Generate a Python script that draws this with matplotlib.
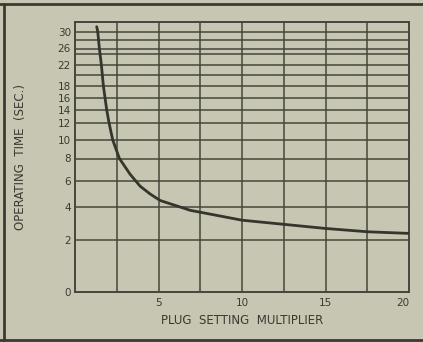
import numpy as np
import matplotlib
matplotlib.use("Agg")
import matplotlib.pyplot as plt
from matplotlib.lines import Line2D

# Curve
psm = [1.3, 1.36, 1.46, 1.58, 1.7, 1.8, 1.9, 2.04, 2.26, 2.66, 3.3, 3.9, 4.5, 5.1,
       6.9, 10, 12.5, 15, 17.5, 20]
op_time = [31, 30, 26, 22, 18, 16, 14, 12, 10, 8, 6.6, 5.6, 5.0, 4.5,
           3.8, 3.2, 2.95, 2.7, 2.5, 2.4]

# Non-uniform time scale of the original grid (value -> relative height)
scale_vals = [0, 2, 4, 6, 8, 10, 12, 14, 16, 18, 20, 22, 24, 26, 28, 30, 32]
scale_pos = [0, 52, 85, 111, 133.5, 152, 169, 182, 194, 206, 217, 227, 238, 243.5, 252, 260.5, 270]

y_grid = [2, 4, 6, 8, 10, 12, 14, 16, 18, 20, 22, 24, 26, 28, 30]
y_labels = [0, 2, 4, 6, 8, 10, 12, 14, 16, 18, 22, 26, 30]
x_grid = [2.5, 5, 7.5, 10, 12.5, 15, 17.5]
x_labels = [5, 10, 15, 20]

bg = "#c6c6b2"
ink = "#45453b"
txt = "#3a3a32"


def fwd(v):
    return np.interp(v, scale_vals, scale_pos)


def inv(p):
    return np.interp(p, scale_pos, scale_vals)


fig = plt.figure(figsize=(4.23, 3.42), dpi=100, facecolor=bg)
ax = fig.add_axes([75 / 423, 50 / 342, 334 / 423, 270 / 342])
ax.set_facecolor(bg)
ax.set_yscale("function", functions=(fwd, inv))
ax.set_xlim(0, 20)
ax.set_ylim(0, 32)

for v in y_grid:
    ax.axhline(v, color=ink, lw=1.1, zorder=1)
for v in x_grid:
    ax.axvline(v, color=ink, lw=1.1, zorder=1)

ax.plot(psm, op_time, color="#35352d", lw=2.0, solid_capstyle="round",
        solid_joinstyle="round", zorder=3)

for s in ax.spines.values():
    s.set_color(ink)
    s.set_linewidth(1.4)

ax.set_xticks(x_labels)
ax.set_xticklabels([str(v) for v in x_labels])
ax.set_yticks(y_labels)
ax.set_yticklabels([str(v) for v in y_labels])
ax.tick_params(length=0, labelsize=7.5, colors=txt, pad=3)
ax.tick_params(axis="x", pad=4)
ax.get_xticklabels()[-1].set_horizontalalignment("right")

ax.set_xlabel("PLUG  SETTING  MULTIPLIER", fontsize=8.5, color=txt, labelpad=5)
ax.set_ylabel("OPERATING  TIME  (SEC.)", fontsize=8.5, color=txt)
ax.yaxis.set_label_coords(-0.145, 0.5)

# scan frame around the picture
fig.add_artist(Line2D([4 / 423, 4 / 423], [2 / 342, 338 / 342], color="#3a3a32", lw=2.0))
fig.add_artist(Line2D([0, 1], [338.5 / 342, 338.5 / 342], color="#3a3a32", lw=2.0))
fig.add_artist(Line2D([0, 1], [2 / 342, 2 / 342], color="#3a3a32", lw=2.0))

fig.savefig("out.png", dpi=100, facecolor=bg)
